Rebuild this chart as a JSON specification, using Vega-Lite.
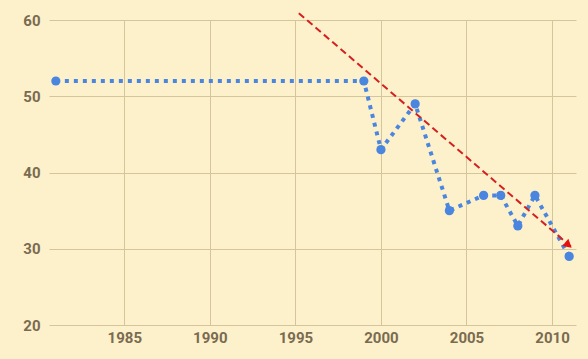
{
  "$schema": "https://vega.github.io/schema/vega-lite/v6.json",
  "width": 527,
  "height": 305,
  "autosize": {"type": "none"},
  "padding": {"left": 49, "top": 20, "right": 12, "bottom": 34},
  "background": "#fdf1cc",
  "config": {
    "view": {"stroke": null},
    "axis": {
      "labelFont": "Roboto",
      "labelFontWeight": "bold",
      "labelFontSize": 15,
      "labelColor": "#7a6b50",
      "gridColor": "#d6c49a",
      "gridOpacity": 1,
      "gridWidth": 1,
      "domain": false,
      "ticks": false,
      "title": null
    }
  },
  "datasets": {
    "series": [
      {"year": 1981, "value": 52},
      {"year": 1999, "value": 52},
      {"year": 2000, "value": 43},
      {"year": 2002, "value": 49},
      {"year": 2004, "value": 35},
      {"year": 2006, "value": 37},
      {"year": 2007, "value": 37},
      {"year": 2008, "value": 33},
      {"year": 2009, "value": 37},
      {"year": 2011, "value": 29}
    ],
    "trend": [
      {"year": 1995.2, "value": 60.9},
      {"year": 2011.1, "value": 30.3}
    ],
    "arrow": [
      {"year": 2010.9, "value": 30.6}
    ]
  },
  "layer": [
    {
      "data": {"name": "series"},
      "mark": {"type": "line", "color": "#4a86df", "strokeWidth": 4, "strokeDash": [4, 5], "clip": false},
      "encoding": {
        "x": {
          "field": "year", "type": "quantitative",
          "scale": {"domain": [1980.6, 2011.4], "nice": false, "zero": false},
          "axis": {"values": [1985, 1990, 1995, 2000, 2005, 2010], "format": "d", "labelPadding": 5}
        },
        "y": {
          "field": "value", "type": "quantitative",
          "scale": {"domain": [20, 60], "nice": false, "zero": false},
          "axis": {"values": [20, 30, 40, 50, 60], "labelPadding": 9}
        }
      }
    },
    {
      "data": {"name": "series"},
      "mark": {"type": "point", "filled": true, "color": "#4a86df", "size": 85, "opacity": 1, "clip": false},
      "encoding": {
        "x": {"field": "year", "type": "quantitative"},
        "y": {"field": "value", "type": "quantitative"}
      }
    },
    {
      "data": {"name": "trend"},
      "mark": {"type": "line", "color": "#d42020", "strokeWidth": 2, "strokeDash": [7, 4], "clip": false},
      "encoding": {
        "x": {"field": "year", "type": "quantitative"},
        "y": {"field": "value", "type": "quantitative"}
      }
    },
    {
      "data": {"name": "arrow"},
      "mark": {"type": "point", "shape": "triangle", "filled": true, "color": "#e8100f", "size": 90, "angle": 130, "opacity": 1, "clip": false},
      "encoding": {
        "x": {"field": "year", "type": "quantitative"},
        "y": {"field": "value", "type": "quantitative"}
      }
    }
  ]
}
